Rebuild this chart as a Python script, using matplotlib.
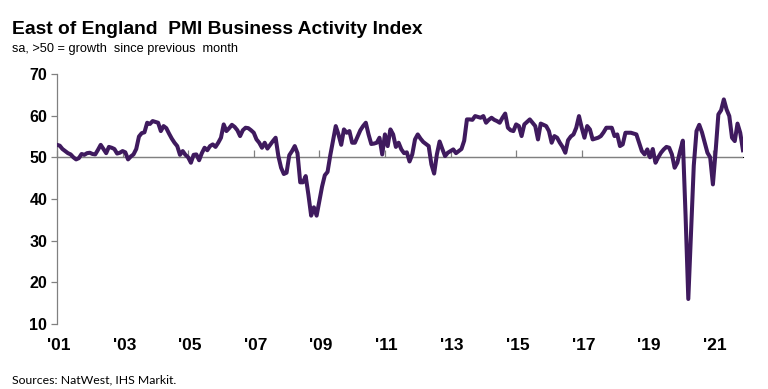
import numpy as np
import matplotlib
matplotlib.use("Agg")
import matplotlib.pyplot as plt

# East of England PMI business activity, monthly Jan 2001 - Dec 2021
y2001 = [53.0, 52.8, 52.0, 51.5, 51.0, 50.7, 50.0, 49.5, 49.8, 50.8, 50.6, 51.0]
y2002 = [51.1, 50.8, 50.7, 51.8, 53.0, 52.0, 51.0, 52.5, 52.3, 52.0, 50.9, 51.1]
y2003 = [51.5, 51.2, 49.5, 50.2, 50.7, 52.0, 55.0, 55.8, 56.0, 58.3, 58.0, 58.7]
y2004 = [58.5, 58.3, 56.3, 57.5, 57.0, 55.7, 54.5, 53.5, 52.7, 50.6, 51.5, 50.6]
y2005 = [50.0, 48.7, 50.6, 50.7, 49.3, 51.0, 52.3, 51.7, 52.7, 53.1, 52.5, 53.5]
y2006 = [54.7, 57.9, 56.3, 57.0, 57.8, 57.3, 56.5, 55.1, 56.5, 57.1, 57.0, 56.5]
y2007 = [55.9, 54.3, 53.5, 52.3, 53.5, 52.1, 53.0, 53.9, 54.7, 50.3, 47.5, 46.0]
y2008 = [46.3, 50.5, 51.5, 52.7, 51.0, 44.0, 44.0, 45.5, 41.0, 36.0, 38.0, 36.0]
y2009 = [39.5, 43.0, 45.7, 46.5, 50.5, 54.0, 57.5, 55.5, 53.0, 56.7, 55.9, 56.3]
y2010 = [53.5, 53.5, 55.0, 56.5, 57.5, 58.3, 55.5, 53.2, 53.3, 53.5, 54.7, 50.7]
y2011 = [55.5, 52.7, 56.7, 55.5, 52.5, 53.5, 51.9, 51.0, 51.2, 49.0, 50.7, 54.3]
y2012 = [55.5, 54.5, 53.7, 53.2, 52.7, 48.3, 46.1, 50.7, 53.8, 52.0, 50.3, 51.1]
y2013 = [51.5, 51.9, 51.0, 51.5, 52.0, 54.0, 59.1, 59.1, 59.0, 59.9, 59.7, 59.5]
y2014 = [59.9, 58.3, 59.0, 59.5, 59.0, 58.7, 58.3, 59.5, 60.5, 57.1, 56.5, 56.3]
y2015 = [57.9, 57.5, 55.1, 57.9, 58.5, 59.1, 58.3, 57.5, 54.3, 58.1, 57.8, 57.5]
y2016 = [56.3, 53.5, 55.1, 54.7, 53.5, 52.5, 51.1, 54.1, 55.0, 55.5, 57.1, 59.9]
y2017 = [57.1, 54.7, 57.5, 56.7, 54.3, 54.5, 54.7, 55.1, 56.0, 57.1, 57.1, 57.1]
y2018 = [55.1, 55.5, 52.7, 53.1, 55.9, 55.9, 55.9, 55.7, 55.5, 53.5, 51.5, 50.7]
y2019 = [51.9, 50.0, 52.0, 48.7, 50.0, 51.1, 51.9, 52.5, 52.3, 50.7, 47.5, 48.7]
y2020 = [51.5, 54.0, 36.0, 16.0, 32.0, 48.0, 56.3, 57.8, 56.0, 53.5, 51.1, 50.0]
y2021 = [43.5, 51.5, 60.3, 61.3, 63.9, 61.5, 59.9, 54.7, 53.9, 58.1, 55.9, 51.7]

values = (y2001 + y2002 + y2003 + y2004 + y2005 + y2006 + y2007 + y2008 + y2009 + y2010
          + y2011 + y2012 + y2013 + y2014 + y2015 + y2016 + y2017 + y2018 + y2019 + y2020 + y2021)
tick_labels = ["'01", "'03", "'05", "'07", "'09", "'11", "'13", "'15", "'17", "'19", "'21"]
y_ticks = [10, 20, 30, 40, 50, 60, 70]

months = np.arange(len(values))

fig = plt.figure(figsize=(7.68, 3.89), dpi=100)
ax = fig.add_axes([0.0742, 0.1671, 0.8932, 0.6427])

grey = "#808080"
purple = "#3F1A5E"

ax.axhline(50, color=grey, lw=0.9, zorder=1)
ax.plot(months, values, color=purple, lw=2.9, solid_joinstyle="round", zorder=3)

ax.set_xlim(0, len(values) - 1)
ax.set_ylim(10, 70)

for s in ["top", "right", "bottom"]:
    ax.spines[s].set_visible(False)
ax.spines["left"].set_color(grey)
ax.spines["left"].set_linewidth(0.9)

ax.set_yticks(y_ticks)
ax.tick_params(axis="y", direction="out", length=4, width=0.9, color=grey, pad=3,
               labelsize=11.5)
for t in ax.get_yticklabels():
    t.set_fontweight("bold")
    t.set_family("Liberation Sans")

xt = np.arange(0, len(values), 24)
ax.set_xticks(xt + 0.6)
ax.set_xticklabels(tick_labels)
ax.tick_params(axis="x", length=0, pad=10, labelsize=12.5)
for t in ax.get_xticklabels():
    t.set_fontweight("bold")
    t.set_family(["Liberation Sans Narrow", "Liberation Sans"])

# category axis drawn across at 50
sec = ax.secondary_xaxis((50 - 10) / 60)
sec.set_xticks(xt)
sec.set_xticklabels([])
sec.tick_params(axis="x", direction="out", length=5, width=0.9, color=grey)
sec.spines["bottom"].set_visible(False)

fig.text(0.016, 0.912, "East of England  PMI Business Activity Index", fontsize=13.9,
         fontweight="bold", family="Liberation Sans")
fig.text(0.016, 0.867, "sa, >50 = growth  since previous  month", fontsize=9.2,
         family="Liberation Sans")
fig.text(0.016, 0.014, "Sources: NatWest, IHS Markit.", fontsize=8.8, family="Lato")

fig.savefig("out.png", dpi=100)
